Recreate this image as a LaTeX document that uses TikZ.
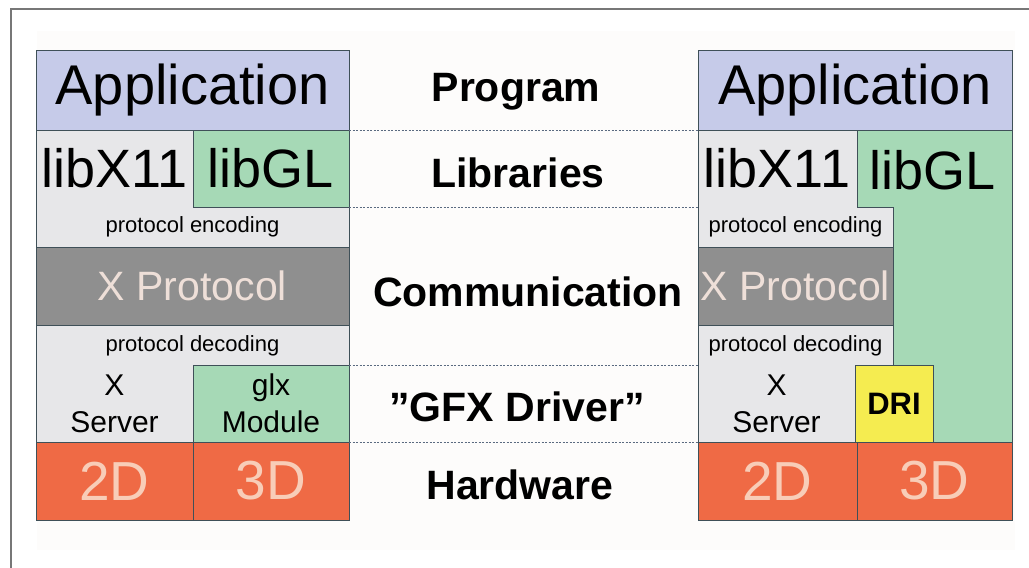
\documentclass[tikz,border=0pt]{standalone}
\usepackage{fontspec}
\setmainfont{Liberation Sans}
\definecolor{appblue}{HTML}{C6CBE9}
\definecolor{glgreen}{HTML}{A6D9B6}
\definecolor{libgrey}{HTML}{E7E7E9}
\definecolor{protgrey}{HTML}{8F8F8F}
\definecolor{prottext}{HTML}{EEDFD8}
\definecolor{hworange}{HTML}{EF6A45}
\definecolor{hwtext}{HTML}{F8CDB8}
\definecolor{driyellow}{HTML}{F5EC50}
\definecolor{edgecol}{HTML}{3F5058}
\definecolor{guidecol}{HTML}{5A6A80}
\definecolor{framecol}{HTML}{777777}
\definecolor{bgtint}{HTML}{FDFCFB}
\newcommand\fsA{\fontsize{56}{60}\selectfont}
\newcommand\fsL{\fontsize{54}{58}\selectfont}
\newcommand\fsS{\fontsize{22}{24}\selectfont}
\newcommand\fsP{\fontsize{41}{44}\selectfont}
\newcommand\fsM{\fontsize{30}{37}\selectfont}
\newcommand\fsH{\fontsize{55}{58}\selectfont}
\newcommand\fsB{\bfseries\fontsize{41}{44}\selectfont}
\begin{document}
\begin{tikzpicture}[x=1pt,y=-1pt,
  blk/.style={draw=edgecol, line width=0.9pt, inner sep=0pt, outer sep=0pt, anchor=north west, align=center},
  txt/.style={inner sep=0pt, align=center},
  lbl/.style={inner sep=0pt, font=\fsB},
  guide/.style={draw=guidecol, line width=0.8pt, dash pattern=on 2pt off 1.5pt},
  frameline/.style={draw=framecol, line width=1.5pt}]
\useasboundingbox (0,0) rectangle (1029,568);
\fill[bgtint] (37,31) rectangle (1015,550);
\draw[frameline] (1029,9) -- (11,9) -- (11,568);

% ---------- left stack ----------
\node[blk, fill=appblue, minimum width=313, minimum height=80, font=\fsA] (appL) at (36,50) {Application};
\node[blk, fill=libgrey, minimum width=313, minimum height=117] (libL) at (36,130) {};
\node[blk, fill=glgreen, minimum width=156, minimum height=77, font=\fsL] (glL) at (193,130) {libGL};
\node[txt, font=\fsL] (x11L) at (114.5,168.5) {libX11};
\node[txt, font=\fsS] (encL) at (192.5,227) {protocol encoding};
\node[blk, fill=protgrey, text=prottext, minimum width=313, minimum height=78, font=\fsP] (xpL) at (36,247) {X Protocol};
\node[blk, fill=libgrey, minimum width=313, minimum height=117] (decL) at (36,325) {};
\node[txt, font=\fsS] (decTL) at (192.5,346) {protocol decoding};
\node[blk, fill=glgreen, minimum width=156, minimum height=77, font=\fsM] (glxL) at (193,365) {glx\\Module};
\node[txt, font=\fsM] (xsL) at (114.5,404) {X\\Server};
\node[blk, fill=hworange, text=hwtext, minimum width=157, minimum height=78, font=\fsH] (twoL) at (36,442) {2D};
\node[blk, fill=hworange, text=hwtext, minimum width=156, minimum height=78, font=\fsH] (threeL) at (193,442) {3D};

% ---------- right stack ----------
\node[blk, fill=appblue, minimum width=314, minimum height=80, font=\fsA] (appR) at (698,50) {Application};
\node[blk, fill=glgreen, minimum width=155, minimum height=312] (glR) at (857,130) {};
\draw[draw=edgecol, line width=0.9pt, fill=libgrey] (698,130) -- (857,130) -- (857,207) -- (893,207) -- (893,365) -- (855,365) -- (855,442) -- (698,442) -- cycle;
\coordinate (r207) at (698,207);
\coordinate (r365) at (698,365);
\node[txt, font=\fsL] (glTR) at (933,170) {libGL};
\node[txt, font=\fsL] (x11R) at (777,168.5) {libX11};
\node[txt, font=\fsS] (encR) at (795.5,227) {protocol encoding};
\node[blk, fill=protgrey, text=prottext, minimum width=195, minimum height=78, font=\fsP] (xpR) at (698,247) {X Protocol};
\node[txt, font=\fsS] (decTR) at (795.5,346) {protocol decoding};
\node[txt, font=\fsM] (xsR) at (776.5,404) {X\\Server};
\node[blk, fill=driyellow, minimum width=78, minimum height=77, font=\bfseries\fontsize{31}{34}\selectfont] (dri) at (855,365) {DRI};
\node[blk, fill=hworange, text=hwtext, minimum width=159, minimum height=78, font=\fsH] (twoR) at (698,442) {2D};
\node[blk, fill=hworange, text=hwtext, minimum width=155, minimum height=78, font=\fsH] (threeR) at (857,442) {3D};

% ---------- guides ----------
\draw[guide] (appL.south east) -- (appR.south west);
\draw[guide] (glL.south east) -- (r207);
\draw[guide] (glxL.north east) -- (r365);
\draw[guide] (glxL.south east) -- (twoR.north west);

% ---------- layer labels ----------
\node[lbl] (prog) at (516,92) {Program};
\node[lbl] (libs) at (518,173) {Libraries};
\node[lbl] (comm) at (528,292) {Communication};
\node[lbl] (gfx) at (517,407) {”GFX Driver”};
\node[lbl] (hw) at (520,485) {Hardware};
\end{tikzpicture}
\end{document}
